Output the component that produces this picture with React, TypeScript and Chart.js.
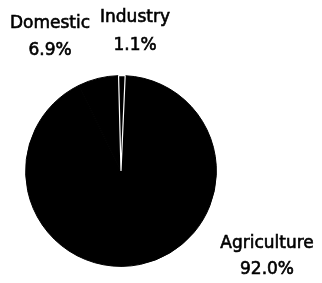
import React, { useEffect, useRef } from "react";
import { Chart, registerables } from "chart.js";

Chart.register(...registerables);

const categories = ["Agriculture", "Domestic", "Industry"];
const shares = [92.0, 6.9, 1.1];

// label anchor positions (canvas px): [centerX, nameBaseline, pctBaseline]
const labelAnchors: [number, number, number][] = [
  [267, 248, 274],
  [50, 28, 55],
  [135, 22, 50],
];

const labelPlugin = {
  id: "pieLabels",
  afterDraw(chart: any) {
    const ctx = chart.ctx;
    ctx.save();
    ctx.fillStyle = "#000";
    ctx.strokeStyle = "#000";
    ctx.lineWidth = 0.6;
    ctx.textAlign = "center";
    ctx.textBaseline = "alphabetic";
    ctx.font = "17px 'DejaVu Sans'";
    categories.forEach((c, i) => {
      const [x, y1, y2] = labelAnchors[i];
      const pct = shares[i].toFixed(1) + "%";
      ctx.fillText(c, x, y1);
      ctx.strokeText(c, x, y1);
      ctx.fillText(pct, x, y2);
      ctx.strokeText(pct, x, y2);
    });
    ctx.restore();
  },
};

export default function App() {
  const ref = useRef<HTMLCanvasElement>(null);
  useEffect(() => {
    const chart = new Chart(ref.current!, {
      type: "pie",
      data: {
        labels: categories,
        datasets: [
          {
            data: shares,
            backgroundColor: ["#000", "#000", "#000"],
            borderColor: ["#000", "#000", "#fff"],
            borderWidth: [1, 1, 1.2],
          },
        ],
      },
      options: {
        animation: false,
        responsive: false,
        rotation: 2.5,
        layout: { padding: { left: 25, right: 105, top: 75, bottom: 16 } },
        plugins: { legend: { display: false }, tooltip: { enabled: false } },
      },
      plugins: [labelPlugin],
    });
    return () => chart.destroy();
  }, []);
  return (
    <div style={{ position: "fixed", left: 0, top: 0, width: 322, height: 283, background: "#fff" }}>
      <canvas ref={ref} width={322} height={283} />
    </div>
  );
}
